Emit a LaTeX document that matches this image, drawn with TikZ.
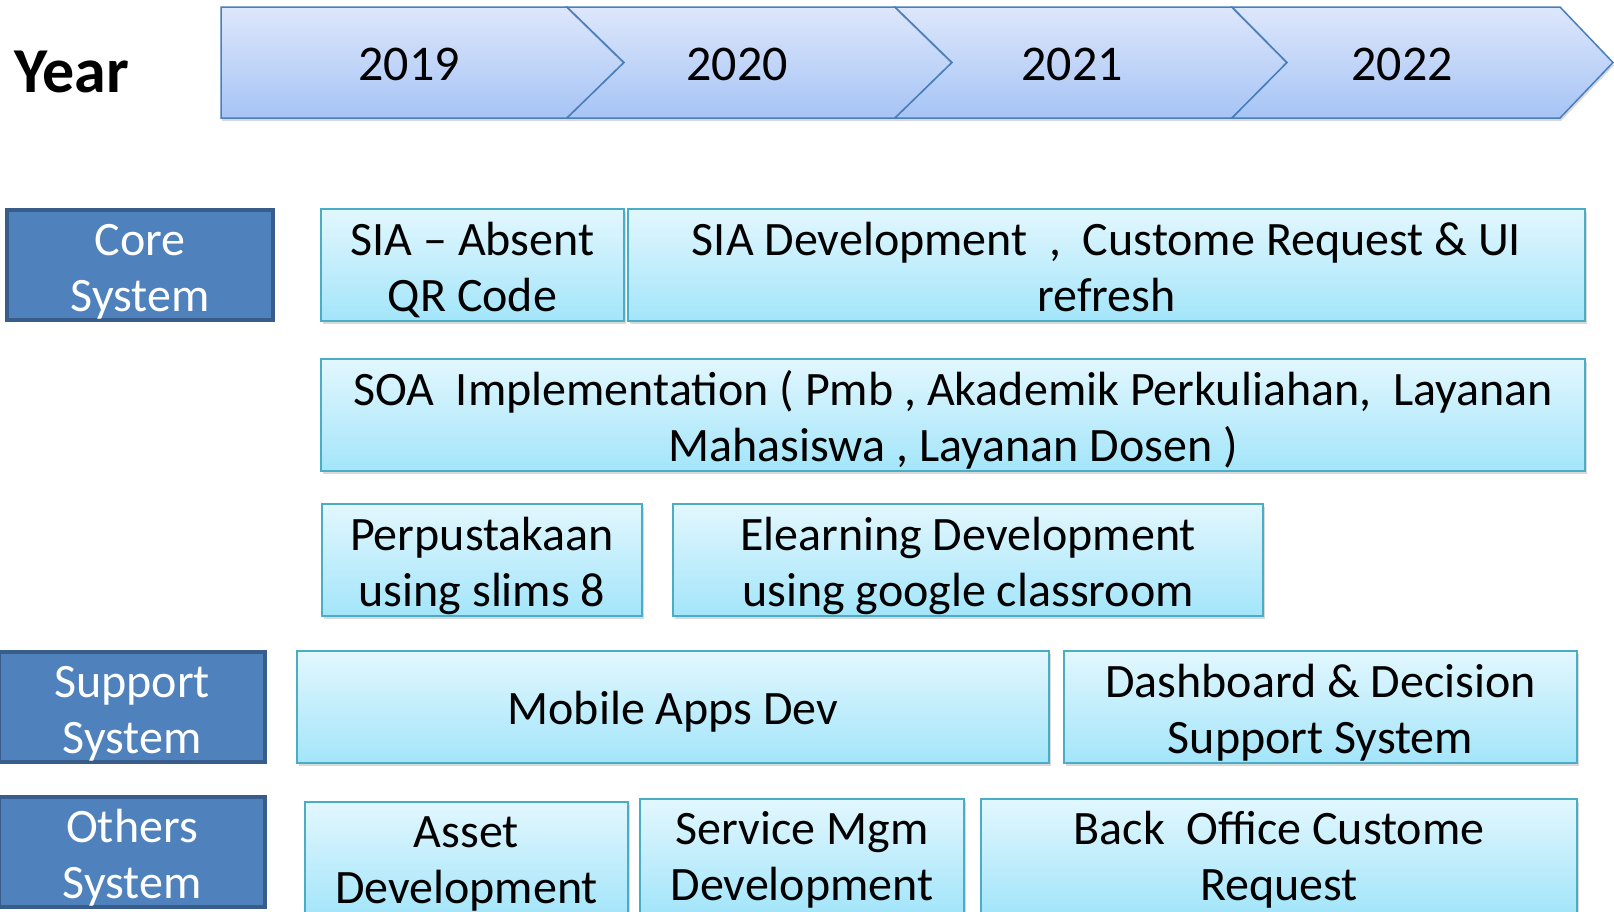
\documentclass[tikz,border=0pt]{standalone}
\usepackage{fontspec}
\setmainfont{Carlito}
\usetikzlibrary{shadows}

\definecolor{bartop}{HTML}{DDE7FB}
\definecolor{barbot}{HTML}{A6C4F5}
\definecolor{barline}{HTML}{4A7EBB}
\definecolor{grpfill}{HTML}{4F81BD}
\definecolor{grpline}{HTML}{385D8A}
\definecolor{tasktop}{HTML}{E2F7FE}
\definecolor{taskbot}{HTML}{A3E5FA}
\definecolor{taskline}{HTML}{4BACC6}

\tikzset{
  yearbar/.style={draw=barline, line width=1.5pt, top color=bartop, bottom color=barbot,
    drop shadow={shadow xshift=1pt, shadow yshift=-3pt, opacity=.3}},
  yearlbl/.style={font=\fontsize{50}{55}\selectfont},
  % fixed text box so the lines sit like in the slide
  boxtext/.style={align=center, inner sep=0pt, outer sep=0pt, anchor=north west,
    font=\fontsize{48}{56}\selectfont, text height=96pt, text depth=4pt},
  oneline/.style={text height=38pt, text depth=4pt},
  lowrow/.style={minimum height=115pt, text depth=9pt},
  grouplbl/.style={boxtext, draw=grpline, line width=4pt, fill=grpfill, text=white,
    minimum width=266pt, minimum height=110pt},
  taskbox/.style={boxtext, draw=taskline, line width=2pt, top color=tasktop, bottom color=taskbot,
    minimum height=112pt,
    drop shadow={shadow xshift=2pt, shadow yshift=-3pt, opacity=.3}}
}

\begin{document}
\begin{tikzpicture}[x=1pt,y=-1pt]
  \useasboundingbox (0,0) rectangle (1614,911);
  \clip (0,0) rectangle (1614,911);

  % timeline
  \draw[yearbar] (221,7) -- (567,7) -- (624,62.5) -- (567,118) -- (221,118) -- cycle;
  \draw[yearbar] (567,7) -- (895,7) -- (952,62.5) -- (895,118) -- (567,118) -- (624,62.5) -- cycle;
  \draw[yearbar] (895,7) -- (1232,7) -- (1287,62.5) -- (1232,118) -- (895,118) -- (952,62.5) -- cycle;
  \draw[yearbar] (1232,7) -- (1560,7) -- (1613,62.5) -- (1560,118) -- (1232,118) -- (1287,62.5) -- cycle;

  \node[font=\fontsize{64}{70}\selectfont\bfseries, anchor=west, inner sep=0pt] (year) at (14,72) {Year};
  \node[yearlbl] (y2019) at (409,64) {2019};
  \node[yearlbl] (y2020) at (737,64) {2020};
  \node[yearlbl] (y2021) at (1072,64) {2021};
  \node[yearlbl] (y2022) at (1402,64) {2022};

  % groups
  \node[grouplbl] (core)    at (7,210)  {Core\\System};
  \node[grouplbl] (support) at (-1,652) {Support\\System};
  \node[grouplbl] (others)  at (-1,797) {Others\\System};

  % core system
  \node[taskbox, minimum width=303pt] (siaqr)  at (321,209) {SIA \textendash{} Absent\\QR Code};
  \node[taskbox, minimum width=957pt] (siadev) at (628,209) {SIA Development\ \ ,\ \ Custome Request \& UI\\refresh};
  \node[taskbox, minimum width=1264pt] (soa)   at (321,359) {SOA\ \ Implementation ( Pmb , Akademik Perkuliahan,\ \ Layanan\\Mahasiswa , Layanan Dosen )};
  \node[taskbox, minimum width=320pt] (perpus) at (322,504) {Perpustakaan\\using slims 8};
  \node[taskbox, minimum width=590pt] (elearn) at (673,504) {Elearning Development\\using google classroom};

  % support system
  \node[taskbox, oneline, minimum width=752pt] (mobile) at (297,651) {Mobile Apps Dev};
  \node[taskbox, minimum width=513pt] (dss)    at (1064,651) {Dashboard \& Decision\\Support System};

  % others system
  \node[taskbox, lowrow, minimum width=323pt] (asset)   at (305,802) {Asset\\Development};
  \node[taskbox, lowrow, minimum width=324pt] (service) at (640,799) {Service Mgm\\Development};
  \node[taskbox, lowrow, minimum width=596pt] (backoff) at (981,799) {Back\ \ Office Custome\\Request};
\end{tikzpicture}
\end{document}
